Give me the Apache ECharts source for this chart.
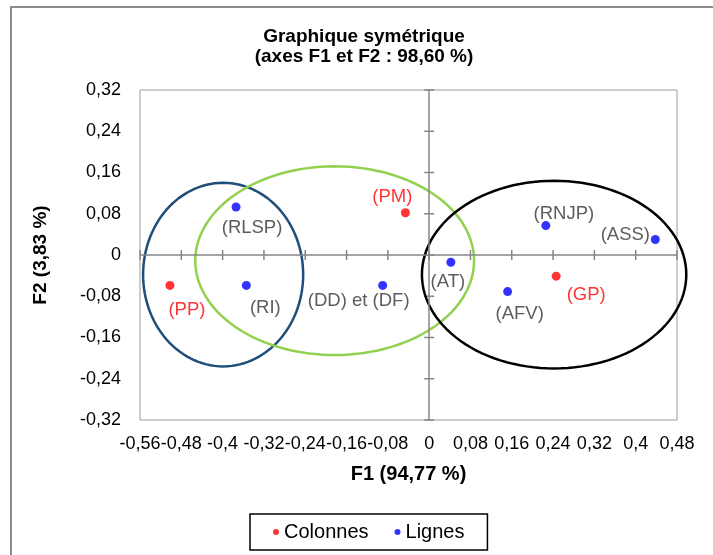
<!DOCTYPE html>
<html><head><meta charset="utf-8">
<script src="https://cdn.jsdelivr.net/npm/echarts@6/dist/echarts.min.js"></script>
<style>html,body{margin:0;padding:0;background:#fff}#c{width:713px;height:555px}</style>
</head><body><div id="c"></div>
<script>
// ---- data ----
const colonnesNames = ['(PP)', '(PM)', '(GP)'];
const colonnesF1 = [-0.502, -0.046, 0.246];
const colonnesF2 = [-0.059, 0.082, -0.041];

const lignesNames = ['(RLSP)', '(RI)', '(DD) et (DF)', '(AT)', '(AFV)', '(RNJP)', '(ASS)'];
const lignesF1 = [-0.374, -0.354, -0.090, 0.042, 0.152, 0.226, 0.438];
const lignesF2 = [0.093, -0.059, -0.059, -0.014, -0.071, 0.057, 0.030];

// groups drawn as ellipses (centre and radii in axis units)
const ellipseCX = [-0.399, -0.183, 0.242];
const ellipseCY = [-0.038, -0.011, -0.038];
const ellipseRX = [0.155, 0.270, 0.256];
const ellipseRY = [0.178, 0.183, 0.182];

// tick values of the two axes
const xTickValues = [-0.56, -0.48, -0.4, -0.32, -0.24, -0.16, -0.08, 0, 0.08, 0.16, 0.24, 0.32, 0.4, 0.48];
const yTickValues = [-0.32, -0.24, -0.16, -0.08, 0, 0.08, 0.16, 0.24, 0.32];

const xMin = -0.56, xMax = 0.48, yMin = -0.32, yMax = 0.32, step = 0.08;

// ---- styles ----
const ellipseColors = ['#1F4E79', '#92D050', '#000000'];
const labelOffsets = {
  '(PP)': [17, 24], '(PM)': [-13, -16], '(GP)': [30, 19],
  '(RLSP)': [16, 21], '(RI)': [19, 22], '(DD) et (DF)': [-24, 15],
  '(AT)': [-3, 20], '(AFV)': [12, 22], '(RNJP)': [18, -12], '(ASS)': [-30, -5]
};
const FONT = '"Liberation Sans", Arial, sans-serif';
const AXIS_GRAY = '#868686';

function fmt(v) {
  const r = Math.round(v * 100) / 100;
  return String(r).replace('.', ',');
}

function pts(names, xs, ys) {
  return names.map((n, i) => ({
    name: n, value: [xs[i], ys[i]],
    label: { offset: labelOffsets[n] }
  }));
}

const ellipseData = ellipseCX.map((cx, i) => [cx, ellipseCY[i], ellipseRX[i], ellipseRY[i], i]);

// cross axes through the origin: [x, y, kind] (kind 0 = tick on F1 axis, 1 = tick on F2 axis)
const crossTickData = xTickValues.map(v => [v, 0, 0]).concat(yTickValues.map(v => [0, v, 1]));

const chart = echarts.init(document.getElementById('c'), null, { renderer: 'canvas' });
chart.setOption({
  animation: false,
  backgroundColor: '#fff',
  textStyle: { fontFamily: FONT },
  graphic: [{
    type: 'rect', z: -10, silent: true,
    shape: { x: 11, y: 7, width: 740, height: 580 },
    style: { fill: 'none', stroke: '#8c8c8c', lineWidth: 2 }
  }],
  title: {
    text: 'Graphique symétrique\n(axes F1 et F2 : 98,60 %)',
    left: 359, top: 22, textAlign: 'center',
    textStyle: { fontFamily: FONT, fontSize: 19, fontWeight: 'bold', color: '#000', lineHeight: 20 }
  },
  legend: {
    data: ['Colonnes', 'Lignes'],
    left: 250, top: 514,
    padding: [8, 23, 8, 23],
    borderColor: '#000', borderWidth: 1.5,
    itemWidth: 6, itemHeight: 6, itemGap: 26,
    icon: 'circle',
    textStyle: { fontFamily: FONT, fontSize: 20, color: '#000' }
  },
  grid: {
    left: 140, right: 36, top: 90, bottom: 135,
    show: true, borderColor: '#9a9a9a', borderWidth: 1, containLabel: false
  },
  xAxis: {
    type: 'value', min: xMin, max: xMax, interval: step,
    axisLine: { show: false, onZero: false }, axisTick: { show: false }, splitLine: { show: false },
    axisLabel: { formatter: fmt, fontSize: 18, color: '#000', margin: 15, fontFamily: FONT },
    name: 'F1 (94,77 %)', nameLocation: 'middle', nameGap: 44,
    nameTextStyle: { fontFamily: FONT, fontSize: 20, fontWeight: 'bold', color: '#000' }
  },
  yAxis: {
    type: 'value', min: yMin, max: yMax, interval: step,
    axisLine: { show: false, onZero: false }, axisTick: { show: false }, splitLine: { show: false },
    axisLabel: { formatter: fmt, fontSize: 18, color: '#000', margin: 19, fontFamily: FONT },
    name: 'F2 (3,83 %)', nameLocation: 'middle', nameGap: 90, nameRotate: 90,
    nameTextStyle: { fontFamily: FONT, fontSize: 19, fontWeight: 'bold', color: '#000' }
  },
  series: [{
    type: 'line', name: 'axesOrigine', silent: true, data: [], z: 0,
    markLine: {
      silent: true, symbol: 'none', label: { show: false },
      lineStyle: { color: AXIS_GRAY, width: 1.5, type: 'solid' },
      emphasis: { disabled: true },
      data: [{ xAxis: 0 }, { yAxis: 0 }]
    }
  }, {
    type: 'custom', name: 'graduations', silent: true, clip: false, z: 0,
    encode: { x: 0, y: 1 },
    renderItem: function (params, api) {
      const p = api.coord([api.value(0), api.value(1)]);
      const kind = api.value(2);
      const x = p[0], y = p[1];
      const shape = kind === 0
        ? { x1: x, y1: y - 5, x2: x, y2: y + 5 }
        : { x1: x - 5, y1: y, x2: x + 5, y2: y };
      return { type: 'line', shape: shape, style: { stroke: AXIS_GRAY, lineWidth: 1.5 } };
    },
    data: crossTickData
  }, {
    type: 'custom', name: 'groupes', silent: true, clip: false, z: 1,
    renderItem: function (params, api) {
      const cx = api.value(0), cy = api.value(1), rx = api.value(2), ry = api.value(3);
      const idx = api.value(4);
      const points = [];
      const N = 120;
      for (let k = 0; k < N; k++) {
        const t = 2 * Math.PI * k / N;
        points.push(api.coord([cx + rx * Math.cos(t), cy + ry * Math.sin(t)]));
      }
      return {
        type: 'polygon', shape: { points: points },
        style: { fill: 'none', stroke: ellipseColors[idx], lineWidth: 2.5 }
      };
    },
    data: ellipseData
  }, {
    type: 'scatter', name: 'Colonnes', symbol: 'circle', symbolSize: 9, z: 3,
    itemStyle: { color: '#FF0000' },
    label: {
      show: true, position: 'inside', formatter: '{b}',
      color: '#FF0000', fontSize: 18.5, fontFamily: FONT, align: 'center', verticalAlign: 'middle'
    },
    data: pts(colonnesNames, colonnesF1, colonnesF2)
  }, {
    type: 'scatter', name: 'Lignes', symbol: 'circle', symbolSize: 9, z: 3,
    itemStyle: { color: '#0000FF' },
    label: {
      show: true, position: 'inside', formatter: '{b}',
      color: '#333333', fontSize: 18.5, fontFamily: FONT, align: 'center', verticalAlign: 'middle'
    },
    data: pts(lignesNames, lignesF1, lignesF2)
  }]
});
</script>
</body></html>
